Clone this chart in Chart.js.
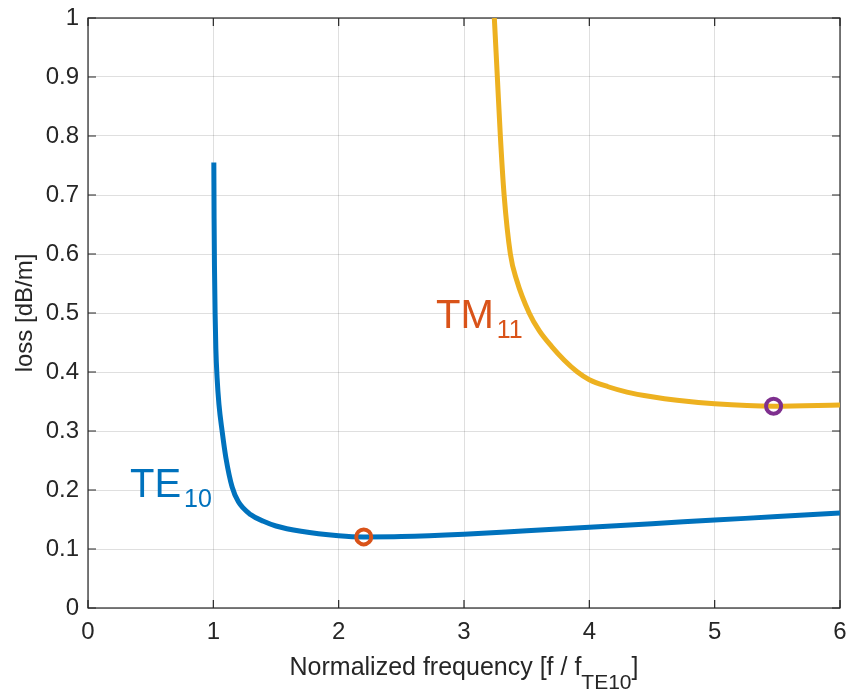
<!DOCTYPE html>
<html>
<head>
<meta charset="utf-8">
<script src="https://cdn.jsdelivr.net/npm/chart.js@4.4.1/dist/chart.umd.min.js"></script>
<style>
html, body { margin: 0; padding: 0; background: #fff; }
</style>
</head>
<body>
<canvas id="lossChart" width="857" height="696"></canvas>
<script>
// TE10 mode, loss vs normalized frequency
var te10Freq = [1.004, 1.006, 1.009, 1.014, 1.02, 1.03, 1.045, 1.07, 1.1, 1.15, 1.2, 1.3, 1.4, 1.5, 1.7, 2.0, 2.2, 2.5, 3.0, 3.5, 4.0, 4.5, 5.0, 5.5, 6.0];
var te10Loss = [0.755, 0.66, 0.58, 0.50, 0.44, 0.39, 0.345, 0.30, 0.255, 0.205, 0.180, 0.158, 0.147, 0.139, 0.130, 0.1225, 0.1205, 0.121, 0.125, 0.131, 0.137, 0.143, 0.149, 0.155, 0.161];

// TM11 mode
var tm11Freq = [3.242, 3.266, 3.29, 3.32, 3.37, 3.42, 3.52, 3.6, 3.7, 3.8, 3.9, 4.0, 4.15, 4.3, 4.5, 4.7, 5.0, 5.47, 6.0];
var tm11Loss = [1.0, 0.9, 0.8, 0.7, 0.6, 0.556, 0.5, 0.470, 0.443, 0.420, 0.401, 0.387, 0.375, 0.366, 0.358, 0.352, 0.346, 0.342, 0.344];

// minimum-loss markers
var te10Min = [2.2, 0.1205];
var tm11Min = [5.47, 0.342];

var xTicks = [0, 1, 2, 3, 4, 5, 6];
var yTicks = [0, 0.1, 0.2, 0.3, 0.4, 0.5, 0.6, 0.7, 0.8, 0.9, 1];
var yTickLabels = ['0', '0.1', '0.2', '0.3', '0.4', '0.5', '0.6', '0.7', '0.8', '0.9', '1'];

var blue = '#0072BD', orange = '#D95319', yellow = '#EDB120', purple = '#7E2F8E';
var axisColor = '#262626';
var fontFamily = '"Liberation Sans", Arial, Helvetica, sans-serif';

function toPoints(xs, ys) {
    return xs.map(function (x, i) { return { x: x, y: ys[i] }; });
}

// write text with a subscript part, starting at x (left) on baseline y
function subText(ctx, x, y, main, sub, tail, size, subSize, drop, gap, color, center) {
    ctx.font = size + 'px ' + fontFamily;
    var w1 = ctx.measureText(main).width + gap;
    var w3 = tail ? ctx.measureText(tail).width : 0;
    ctx.font = subSize + 'px ' + fontFamily;
    var w2 = ctx.measureText(sub).width;
    if (center) x = x - (w1 + w2 + w3) / 2;
    ctx.fillStyle = color;
    ctx.textAlign = 'left';
    ctx.textBaseline = 'alphabetic';
    ctx.font = size + 'px ' + fontFamily;
    ctx.fillText(main, x, y);
    ctx.font = subSize + 'px ' + fontFamily;
    ctx.fillText(sub, x + w1, y + drop);
    if (tail) {
        ctx.font = size + 'px ' + fontFamily;
        ctx.fillText(tail, x + w1 + w2, y);
    }
}

var frame = {
    id: 'frame',
    beforeDatasetsDraw: function (chart) {
        var ctx = chart.ctx, a = chart.chartArea;
        var xs = chart.scales.x, ys = chart.scales.y;
        ctx.save();
        ctx.strokeStyle = axisColor;
        ctx.lineWidth = 1.2;
        ctx.strokeRect(a.left, a.top, a.right - a.left, a.bottom - a.top);
        ctx.beginPath();
        xs.ticks.forEach(function (t) {
            var p = xs.getPixelForValue(t.value);
            ctx.moveTo(p, a.bottom); ctx.lineTo(p, a.bottom - 8);
            ctx.moveTo(p, a.top); ctx.lineTo(p, a.top + 8);
        });
        ys.ticks.forEach(function (t) {
            var p = ys.getPixelForValue(t.value);
            ctx.moveTo(a.left, p); ctx.lineTo(a.left + 8, p);
            ctx.moveTo(a.right, p); ctx.lineTo(a.right - 8, p);
        });
        ctx.stroke();
        ctx.restore();
    },
    afterDraw: function (chart) {
        var ctx = chart.ctx, a = chart.chartArea;
        var xs = chart.scales.x, ys = chart.scales.y;
        ctx.save();
        // curve labels
        subText(ctx, xs.getPixelForValue(0.335), ys.getPixelForValue(0.1885), 'TE', '10', '', 40, 25, 10, 3, blue, false);
        subText(ctx, xs.getPixelForValue(2.777), ys.getPixelForValue(0.474), 'TM', '11', '', 40, 25, 10, 3, orange, false);
        // axis titles
        subText(ctx, (a.left + a.right) / 2, 675, 'Normalized frequency [f / f', 'TE10', ']', 25, 21, 14, 0, axisColor, true);
        ctx.translate(25, (a.top + a.bottom) / 2);
        ctx.rotate(-Math.PI / 2);
        ctx.font = '24px ' + fontFamily;
        ctx.fillStyle = axisColor;
        ctx.textAlign = 'center';
        ctx.textBaseline = 'middle';
        ctx.fillText('loss [dB/m]', 0, 0);
        ctx.restore();
    }
};

var ctx = document.getElementById('lossChart').getContext('2d');
var lossChart = new Chart(ctx, {
    type: 'line',
    data: {
        datasets: [{
            label: 'TE10 min',
            data: [{ x: te10Min[0], y: te10Min[1] }],
            showLine: false,
            pointRadius: 7.5,
            pointBorderWidth: 4,
            pointBorderColor: orange,
            pointBackgroundColor: 'rgba(0,0,0,0)',
            order: 0
        }, {
            label: 'TM11 min',
            data: [{ x: tm11Min[0], y: tm11Min[1] }],
            showLine: false,
            pointRadius: 7.5,
            pointBorderWidth: 4,
            pointBorderColor: purple,
            pointBackgroundColor: 'rgba(0,0,0,0)',
            order: 0
        }, {
            label: 'TE10',
            data: toPoints(te10Freq, te10Loss),
            borderColor: blue,
            borderWidth: 5,
            pointRadius: 0,
            cubicInterpolationMode: 'monotone',
            order: 1
        }, {
            label: 'TM11',
            data: toPoints(tm11Freq, tm11Loss),
            borderColor: yellow,
            borderWidth: 5,
            pointRadius: 0,
            cubicInterpolationMode: 'monotone',
            order: 1
        }]
    },
    options: {
        responsive: false,
        animation: false,
        layout: { padding: { top: 18, right: 17, left: 0, bottom: 0 } },
        plugins: { legend: { display: false }, tooltip: { enabled: false } },
        scales: {
            x: {
                type: 'linear',
                min: 0, max: 6,
                afterFit: function (s) { s.height = 88; s.paddingLeft = 0; s.paddingRight = 0; },
                afterBuildTicks: function (s) { s.ticks = xTicks.map(function (v) { return { value: v }; }); },
                grid: { color: 'rgba(38,38,38,0.15)', drawTicks: false },
                border: { display: false },
                ticks: {
                    padding: 10,
                    color: axisColor,
                    font: { family: fontFamily, size: 24 },
                    callback: function (v) { return String(v); }
                }
            },
            y: {
                type: 'linear',
                min: 0, max: 1,
                afterFit: function (s) { s.width = 88; s.paddingTop = 0; s.paddingBottom = 0; },
                afterBuildTicks: function (s) { s.ticks = yTicks.map(function (v) { return { value: v }; }); },
                grid: { color: 'rgba(38,38,38,0.15)', drawTicks: false },
                border: { display: false },
                ticks: {
                    padding: 9,
                    color: axisColor,
                    font: { family: fontFamily, size: 24 },
                    callback: function (v, i) { return yTickLabels[i]; }
                }
            }
        }
    },
    plugins: [frame]
});
</script>
</body>
</html>
